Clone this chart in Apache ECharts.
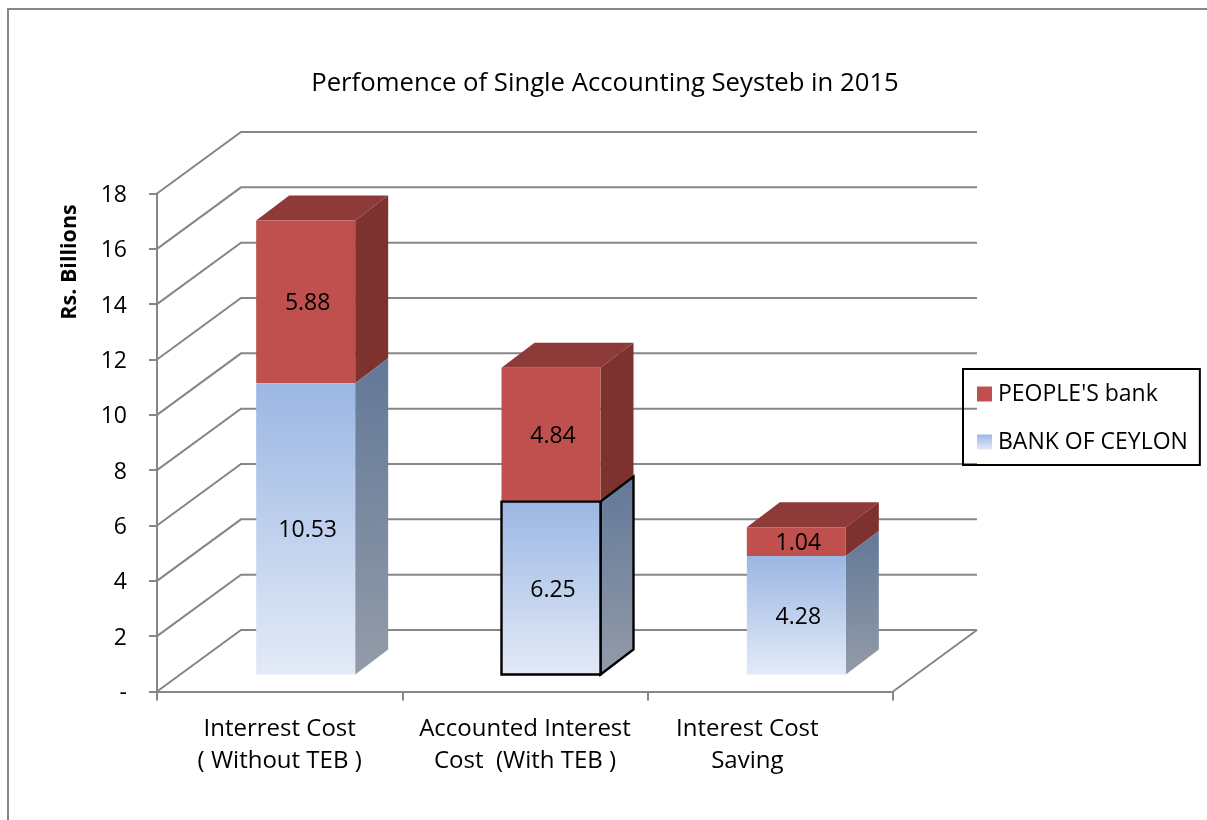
<!DOCTYPE html>
<html><head><meta charset="utf-8">
<style>html,body{margin:0;padding:0;background:#fff}#c{width:1207px;height:820px}</style>
<script src="https://cdn.jsdelivr.net/npm/echarts@6/dist/echarts.min.js"></script>
</head><body><div id="c"></div>
<script>
const categories = ["Interrest Cost\n( Without TEB )", "Accounted Interest\nCost  (With TEB )", "Interest Cost\nSaving"];
const bankOfCeylon = [10.53, 6.25, 4.28];
const peoplesBank = [5.88, 4.84, 1.04];
const yTicks = [0, 2, 4, 6, 8, 10, 12, 14, 16, 18];
const titleText = "Perfomence of Single Accounting Seysteb in 2015";
const yAxisTitle = "Rs. Billions";
const FONT = "Open Sans";
const FS = 23;
const LINE = "#868686";
const WALL = [84, -61.5], SHIFT = [26, -17], SIDE = [33, -25], BARW = 99;
const grad = (a, b, x2, y2) => new echarts.graphic.LinearGradient(0, 0, x2, y2, [{offset: 0, color: a}, {offset: 1, color: b}]);
const blueFront = grad("#9BB7E3", "#E3EAF7", 0, 1);
const blueSide = grad("#627898", "#939BA8", 0.3, 1);

function wallItem(params, api) {
  const v = api.value(1), band = api.size([1, 0])[0];
  const c = api.coord([0, v]);
  const x0 = c[0] - band / 2, y = c[1];
  const x1 = x0 + band * 3;
  const style = {fill: null, stroke: LINE, lineWidth: 2};
  const kids = [{type: "polyline", shape: {points: [[x0, y], [x0 + WALL[0], y + WALL[1]], [x1 + WALL[0], y + WALL[1]]]}, style}];
  if (v === 0) kids.push({type: "line", shape: {x1: x1, y1: y, x2: x1 + WALL[0], y2: y + WALL[1]}, style});
  return {type: "group", children: kids};
}
function barRenderer(front, side, top, base, outlined) {
  return function (params, api) {
    const i = api.value(0), v = api.value(1);
    const b = api.coord([i, base[i]]), t = api.coord([i, base[i] + v]);
    const l = b[0] + SHIFT[0] - BARW / 2, r = l + BARW;
    const yb = b[1] + SHIFT[1], yt = t[1] + SHIFT[1];
    const [dx, dy] = SIDE;
    const out = outlined === i;
    const edge = out ? {stroke: "#000", lineWidth: 2.4, lineJoin: "miter"} : {stroke: null};
    const kids = [];
    if (top) kids.push({type: "polygon", shape: {points: [[l, yt], [r, yt], [r + dx, yt + dy], [l + dx, yt + dy]]}, style: {fill: top}});
    kids.push(
      {type: "polygon", shape: {points: [[r, yt], [r + dx, yt + dy], [r + dx, yb + dy], [r, yb]]}, style: Object.assign({fill: side}, edge)},
      {type: "polygon", shape: {points: [[l, yt], [r, yt], [r, yb], [l, yb]]}, style: Object.assign({fill: front}, edge)},
      {type: "text", x: (l + r) / 2 + 2, y: (yt + yb) / 2 + 2, style: {text: v.toFixed(2), fill: "#000", font: FS + "px " + FONT, textAlign: "center", textVerticalAlign: "middle"}}
    );
    return {type: "group", children: kids};
  };
}

const chart = echarts.init(document.getElementById("c"), null, {renderer: "canvas"});
chart.setOption({
  animation: false,
  backgroundColor: "#fff",
  title: {text: titleText, left: 600, top: 66, textAlign: "center", textStyle: {fontFamily: FONT, fontWeight: "normal", fontSize: 25.7, color: "#000"}},
  grid: {left: 157, top: 193.5, width: 736, height: 498},
  xAxis: {type: "category", data: categories, boundaryGap: true,
    axisLine: {show: true, lineStyle: {color: LINE, width: 2}},
    axisTick: {show: true, alignWithLabel: false, interval: 0, length: 9, lineStyle: {color: LINE, width: 2}},
    axisLabel: {margin: 22, color: "#000", fontFamily: FONT, fontSize: 24, lineHeight: 32, interval: 0,
      formatter: (name, i) => i === 2 ? name.split("\n").map(s => "{s|" + s + "}").join("\n") : name,
      rich: {s: {fontFamily: FONT, fontSize: 24, lineHeight: 32, color: "#000", padding: [0, 46, 0, 0]}}}
  },
  yAxis: {type: "value", min: 0, max: 18, interval: 2,
    axisLine: {show: true, lineStyle: {color: LINE, width: 2}},
    axisTick: {show: true, length: 8, lineStyle: {color: LINE, width: 2}},
    splitLine: {show: false},
    axisLabel: {margin: 30, color: "#000", fontFamily: FONT, fontSize: FS, verticalAlign: "top", lineHeight: 4, formatter: v => v === 0 ? "-" : String(v)}
  },
  legend: {orient: "vertical", left: 963, top: 369, padding: [13, 12, 11, 14], itemGap: 24, itemWidth: 15, itemHeight: 15,
    icon: "rect", borderColor: "#000", borderWidth: 2, selectedMode: false,
    textStyle: {fontFamily: FONT, fontSize: FS, color: "#000", lineHeight: 24, padding: [0, 0, 0, 1]},
    data: [{name: "PEOPLE'S bank", itemStyle: {color: "#C0504D"}}, {name: "BANK OF CEYLON", itemStyle: {color: grad("#9BB7E3", "#E3EAF7", 0, 1)}}]
  },
  graphic: [
    {type: "polyline", silent: true, shape: {points: [[8, 820], [8, 9], [1207, 9]]}, style: {fill: null, stroke: LINE, lineWidth: 2}},
    {type: "text", x: 70, y: 262, rotation: Math.PI / 2, style: {text: yAxisTitle, font: "bold 21.5px " + FONT, fill: "#000", textAlign: "center", textVerticalAlign: "middle"}}
  ],
  series: [
    {type: "custom", name: "walls", z: 1, silent: true, data: yTicks.map(v => [0, v]), renderItem: wallItem},
    {type: "custom", name: "PEOPLE'S bank", z: 3, silent: true, itemStyle: {color: "#C0504D"},
      data: peoplesBank.map((v, i) => [i, v]),
      renderItem: barRenderer("#C0504D", "#7D322F", "#8E3A38", bankOfCeylon, -1)},
    {type: "custom", name: "BANK OF CEYLON", z: 4, silent: true, itemStyle: {color: "#9BB7E3"},
      data: bankOfCeylon.map((v, i) => [i, v]),
      renderItem: barRenderer(blueFront, blueSide, null, bankOfCeylon.map(() => 0), 1)}
  ]
});
</script></body></html>
